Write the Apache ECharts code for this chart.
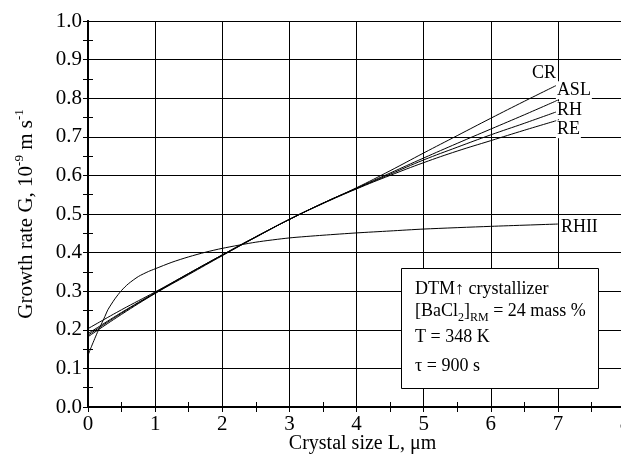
<!DOCTYPE html>
<html>
<head>
<meta charset="utf-8">
<script src="https://cdn.jsdelivr.net/npm/echarts@6/dist/echarts.min.js"></script>
<style>html,body{margin:0;padding:0;background:#fff;}#c{width:621px;height:454px;}</style>
</head>
<body>
<div id="c"></div>
<script>
// ---- data ----
var L_main = [0, 0.5, 1, 1.5, 2, 2.5, 3, 3.5, 4, 4.5, 5, 5.5, 6, 6.5, 7];
var CR  = [0.182, 0.240, 0.294, 0.343, 0.392, 0.440, 0.486, 0.528, 0.568, 0.612, 0.658, 0.703, 0.748, 0.792, 0.835];
var ASL = [0.186, 0.243, 0.295, 0.345, 0.393, 0.440, 0.486, 0.528, 0.567, 0.606, 0.645, 0.683, 0.720, 0.757, 0.795];
var RH  = [0.190, 0.245, 0.296, 0.346, 0.394, 0.441, 0.486, 0.528, 0.566, 0.603, 0.640, 0.673, 0.705, 0.735, 0.766];
var RE  = [0.203, 0.252, 0.298, 0.346, 0.394, 0.441, 0.486, 0.527, 0.565, 0.600, 0.633, 0.663, 0.690, 0.717, 0.743];
var L_rhii = [0, 0.05, 0.1, 0.15, 0.2, 0.25, 0.3, 0.4, 0.5, 0.6, 0.75, 0.9, 1, 1.25, 1.5, 1.75, 2, 2.5, 3, 3.5, 4, 4.5, 5, 6, 7];
var RHII   = [0.134, 0.156, 0.177, 0.197, 0.215, 0.234, 0.253, 0.280, 0.302, 0.319, 0.338, 0.351, 0.358, 0.375, 0.389, 0.401, 0.411, 0.427, 0.438, 0.445, 0.451, 0.456, 0.461, 0.468, 0.474];
var xTicks = ['0','1','2','3','4','5','6','7','8'];
var yTicks = ['0.0','0.1','0.2','0.3','0.4','0.5','0.6','0.7','0.8','0.9','1.0'];
var seriesNames = ['CR', 'ASL', 'RH', 'RE', 'RHII'];
var boxLines = ['DTM\u2191 crystallizer', '[BaCl{sub|2}]{sub|RM} = 24 mass %', 'T = 348 K', '\u03c4 = 900 s'];

// ---- chart ----
var FF = '"Liberation Serif", "Times New Roman", serif';
function pairs(xs, ys) { return xs.map(function (x, i) { return [x, ys[i]]; }); }
var chart = echarts.init(document.getElementById('c'), null, {renderer: 'canvas'});

var labelOffsets = {CR: [-27, -11], ASL: [-2, -10], RH: [-2, -1], RE: [-2, 9], RHII: [2, 3]};
function mkSeries(name, xs, ys, sm) {
  return {
    name: name, type: 'line', data: pairs(xs, ys), smooth: sm,
    showSymbol: false, symbol: 'none', silent: true, z: 3,
    lineStyle: {color: '#000', width: 1},
    endLabel: {
      show: true, formatter: name, color: '#000', fontFamily: FF, fontSize: 18,
      distance: 0, offset: labelOffsets[name], align: 'left', verticalAlign: 'middle',
      backgroundColor: '#fff', padding: [0, 1, 0, 1]
    }
  };
}

var axisCommon = {
  type: 'value',
  axisLine: {show: true, lineStyle: {color: '#000', width: 2}},
  axisTick: {show: true, inside: true, length: 5, lineStyle: {color: '#000', width: 1}},
  minorTick: {show: true, splitNumber: 2, length: 5, lineStyle: {color: '#000', width: 1}},
  splitLine: {show: false},
  minorSplitLine: {show: false}
};

var option = {
  animation: false,
  backgroundColor: '#fff',
  grid: {left: 88, top: 21, width: 537, height: 386, containLabel: false, outerBoundsMode: 'none'},
  xAxis: [
    Object.assign({}, axisCommon, {
      min: 0, max: 8, interval: 1, position: 'bottom',
      splitLine: {show: true, lineStyle: {color: '#000', width: 1}},
      axisLabel: {color: '#000', fontFamily: FF, fontSize: 21, margin: 7,
        formatter: function (v) { return xTicks[Math.round(v)]; }},
      name: 'Crystal size L, \u03bcm', nameLocation: 'middle', nameGap: 27, nameMoveOverlap: false,
      nameTextStyle: {color: '#000', fontFamily: FF, fontSize: 20, padding: [0, 0, 0, 12]}
    }),
    Object.assign({}, axisCommon, {
      min: 0, max: 8, interval: 1, position: 'top', axisLabel: {show: false}
    })
  ],
  yAxis: [
    Object.assign({}, axisCommon, {
      min: 0, max: 1, interval: 0.1, position: 'left',
      splitLine: {show: true, lineStyle: {color: '#000', width: 1}},
      axisLabel: {color: '#000', fontFamily: FF, fontSize: 21, margin: 6,
        formatter: function (v) { return yTicks[Math.round(v * 10)]; }},
      name: '{a|Growth rate G, 10}{s|-9}{a| m s}{s|-1}', nameLocation: 'middle', nameGap: 48, nameRotate: 90,
      nameMoveOverlap: false,
      nameTextStyle: {color: '#000', fontFamily: FF, fontSize: 21,
        rich: {
          a: {fontFamily: FF, fontSize: 21, color: '#000', lineHeight: 27, verticalAlign: 'middle'},
          s: {fontFamily: FF, fontSize: 13, color: '#000', lineHeight: 13, verticalAlign: 'top'}
        }}
    }),
    Object.assign({}, axisCommon, {
      min: 0, max: 1, interval: 0.1, position: 'right', axisLabel: {show: false}
    })
  ],
  series: [
    mkSeries(seriesNames[0], L_main, CR, 0.4),
    mkSeries(seriesNames[1], L_main, ASL, 0.4),
    mkSeries(seriesNames[2], L_main, RH, 0.4),
    mkSeries(seriesNames[3], L_main, RE, 0.4),
    mkSeries(seriesNames[4], L_rhii, RHII, 0.25)
  ],
  graphic: [
    {type: 'rect', z: 10, shape: {x: 401.5, y: 268.5, width: 197, height: 120},
      style: {fill: '#fff', stroke: '#000', lineWidth: 1}},
    {type: 'text', z: 11, x: 415, y: 289, style: {text: boxLines[0], fill: '#000', font: '18px ' + FF, verticalAlign: 'middle'}},
    {type: 'text', z: 11, x: 415, y: 311, style: {text: boxLines[1], fill: '#000', verticalAlign: 'middle',
      rich: {
        sub: {fontFamily: FF, fontSize: 12, lineHeight: 12, verticalAlign: 'bottom', fill: '#000'}
      }, font: '18px ' + FF, lineHeight: 26}},
    {type: 'text', z: 11, x: 415, y: 337, style: {text: boxLines[2], fill: '#000', font: '18px ' + FF, verticalAlign: 'middle'}},
    {type: 'text', z: 11, x: 415, y: 366, style: {text: boxLines[3], fill: '#000', font: '18px ' + FF, verticalAlign: 'middle'}}
  ]
};
chart.setOption(option);
</script>
</body>
</html>
